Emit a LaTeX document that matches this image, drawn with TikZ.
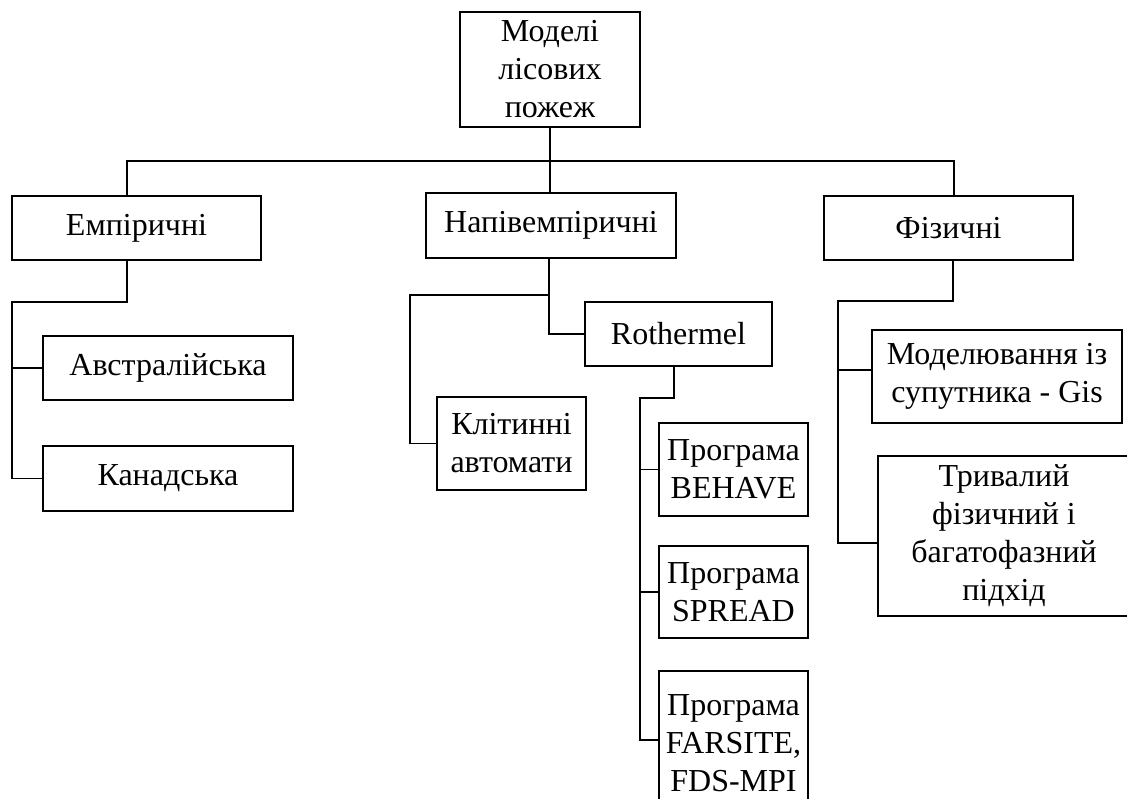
\documentclass[tikz,border=0pt]{standalone}
\usepackage{fontspec}
\setmainfont{Liberation Serif}
\begin{document}
\begin{tikzpicture}[x=1pt,y=-1pt,
  box/.style={draw,line width=1.2pt,inner sep=0pt,align=center,
    font=\fontsize{32}{38}\selectfont},
  conn/.style={line width=1.2pt}]
\useasboundingbox (0,0) rectangle (1127,799);
% boxes
\node[box,minimum width=180,minimum height=115] (top) at (550,69.5) {Моделі\\лісових\\пожеж};
\node[box,minimum width=249,minimum height=64] (emp) at (136.5,228) {Емпіричні};
\node[box,minimum width=250,minimum height=65] (semi) at (551,225.5) {Напівемпіричні};
\node[box,minimum width=249,minimum height=64] (phys) at (948.5,228) {Фізичні};
\node[box,minimum width=250,minimum height=64] (aus) at (168,368) {Австралійська};
\node[box,minimum width=250,minimum height=65] (can) at (168,478.5) {Канадська};
\node[box,minimum width=187,minimum height=64] (roth) at (678.5,334) {Rothermel};
\node[box,minimum width=149,minimum height=93] (cell) at (511.5,443.5) {Клітинні\\автомати};
\node[box,minimum width=149,minimum height=93] (beh) at (733.5,469.5) {Програма\\BEHAVE};
\node[box,minimum width=149,minimum height=92] (spr) at (733.5,592) {Програма\\SPREAD};
\node[box,minimum width=149,minimum height=144] (far) at (733.5,743) {Програма\\FARSITE,\\FDS-MPI};
\node[box,minimum width=250,minimum height=93] (mod) at (997,376.5) {Моделювання із\\супутника - Gis};
\node[box,minimum width=252,minimum height=160] (long) at (1004,536) {Тривалий\\фізичний і\\багатофазний\\підхід};
% top level bus
\coordinate (bl) at (127,161);
\coordinate (br) at (954,161);
\draw[conn] (top.south) -- (top.south |- semi.north);
\draw[conn] (bl |- emp.north) -- (bl) -- (br) -- (br |- phys.north);
% empirical
\coordinate (e1) at (127,302);
\coordinate (e2) at (12,302);
\draw[conn] (e1 |- emp.south) -- (e1) -- (e2) |- (can.west);
\draw[conn] (e2 |- aus.west) -- (aus.west);
% semi-empirical
\coordinate (s1) at (549,295);
\coordinate (s2) at (410,295);
\draw[conn] (s1 |- semi.south) -- (s1) -- (s2) |- (cell.west);
\draw[conn] (s1) |- (roth.west);
% rothermel
\coordinate (r1) at (674,398);
\coordinate (r2) at (640,398);
\coordinate (r3) at (640,740);
\draw[conn] (r1 |- roth.south) -- (r1) -- (r2) -- (r3) -- (r3 -| far.west);
\draw[conn] (r2 |- beh.west) -- (beh.west);
\draw[conn] (r2 |- spr.west) -- (spr.west);
% physical
\coordinate (p1) at (953,301);
\coordinate (p2) at (838,301);
\coordinate (p3) at (838,543);
\coordinate (p4) at (838,370);
\draw[conn] (p1 |- phys.south) -- (p1) -- (p2) -- (p3) -- (p3 -| long.west);
\draw[conn] (p4) -- (p4 -| mod.west);
\end{tikzpicture}
\end{document}
